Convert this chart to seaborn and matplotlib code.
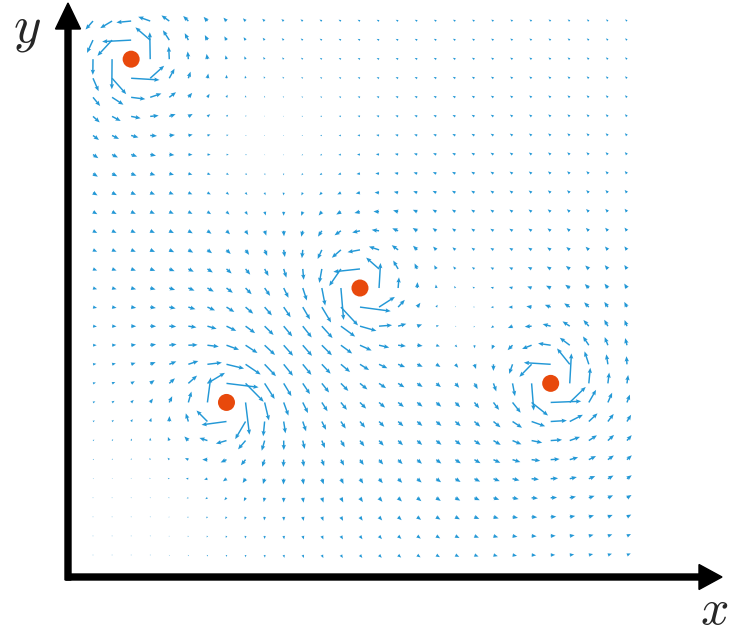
import numpy as np
import pandas as pd
import matplotlib
matplotlib.use("Agg")
import matplotlib.pyplot as plt
import seaborn as sns

# Point vortices: positions on the grid and circulation (+1 counter-clockwise, -1 clockwise)
vortex_x = [2, 7, 14, 24]
vortex_y = [26, 8, 14, 9]
circulation = [1.0, -1.0, 1.0, 1.0]

# Sampling grid for the velocity field
grid_x = np.arange(29)
grid_y = np.arange(29)

sns.set_theme(style="white")
plt.rcParams["mathtext.fontset"] = "cm"

X, Y = np.meshgrid(grid_x, grid_y)
U = np.zeros_like(X, dtype=float)
V = np.zeros_like(X, dtype=float)
at_core = np.zeros_like(X, dtype=bool)
for vx, vy, g in zip(vortex_x, vortex_y, circulation):
    dx = X - vx
    dy = Y - vy
    r2 = dx**2 + dy**2
    core = r2 == 0
    at_core |= core
    r2 = np.where(core, np.inf, r2)
    U += g * (-dy) / r2
    V += g * dx / r2
U = np.ma.masked_where(at_core, U)
V = np.ma.masked_where(at_core, V)

W, H = 730, 638
step = 19.07            # pixels per grid unit
ox, oy = 93, 555        # pixel position of grid point (0, 0)

fig = plt.figure(figsize=(W / 100, H / 100), dpi=100)
ax = fig.add_axes([0, 0, 1, 1])
ax.set_xlim(-ox / step, (W - ox) / step)
ax.set_ylim((oy - H) / step, oy / step)
ax.set_aspect("equal")
ax.axis("off")

blue = "#2398d6"
ax.quiver(X, Y, U, V, color=blue, angles="xy", scale_units="xy",
          scale=1 / 1.5, width=0.002, headwidth=3.0, headlength=3.6,
          headaxislength=3.2, minlength=0.5, pivot="tail", zorder=2)

vort = pd.DataFrame({"x": vortex_x, "y": vortex_y})
sns.scatterplot(data=vort, x="x", y="y", ax=ax, s=150, color="#e8490c",
                edgecolor="none", zorder=3, legend=False)
ax.set_xlabel("")
ax.set_ylabel("")
ax.axis("off")

# Coordinate axes drawn as thick arrows
ax_y0 = (oy - 577) / step
ax_x0 = (68 - ox) / step
shaft = 6 / step
ax.arrow((66 - ox) / step, ax_y0, (722 - 66) / step, 0, width=shaft,
         head_width=25 / step, head_length=23 / step,
         length_includes_head=True, color="black", zorder=4)
ax.arrow(ax_x0, (oy - 580) / step, 0, (580 - 3) / step, width=shaft,
         head_width=25 / step, head_length=26 / step,
         length_includes_head=True, color="black", zorder=4)

fig.text(714 / W, 1 - 610 / H, "$x$", ha="center", va="center", fontsize=36)
fig.text(27 / W, 1 - 28 / H, "$y$", ha="center", va="center", fontsize=38)

fig.savefig("out.png", dpi=100, facecolor="white")
